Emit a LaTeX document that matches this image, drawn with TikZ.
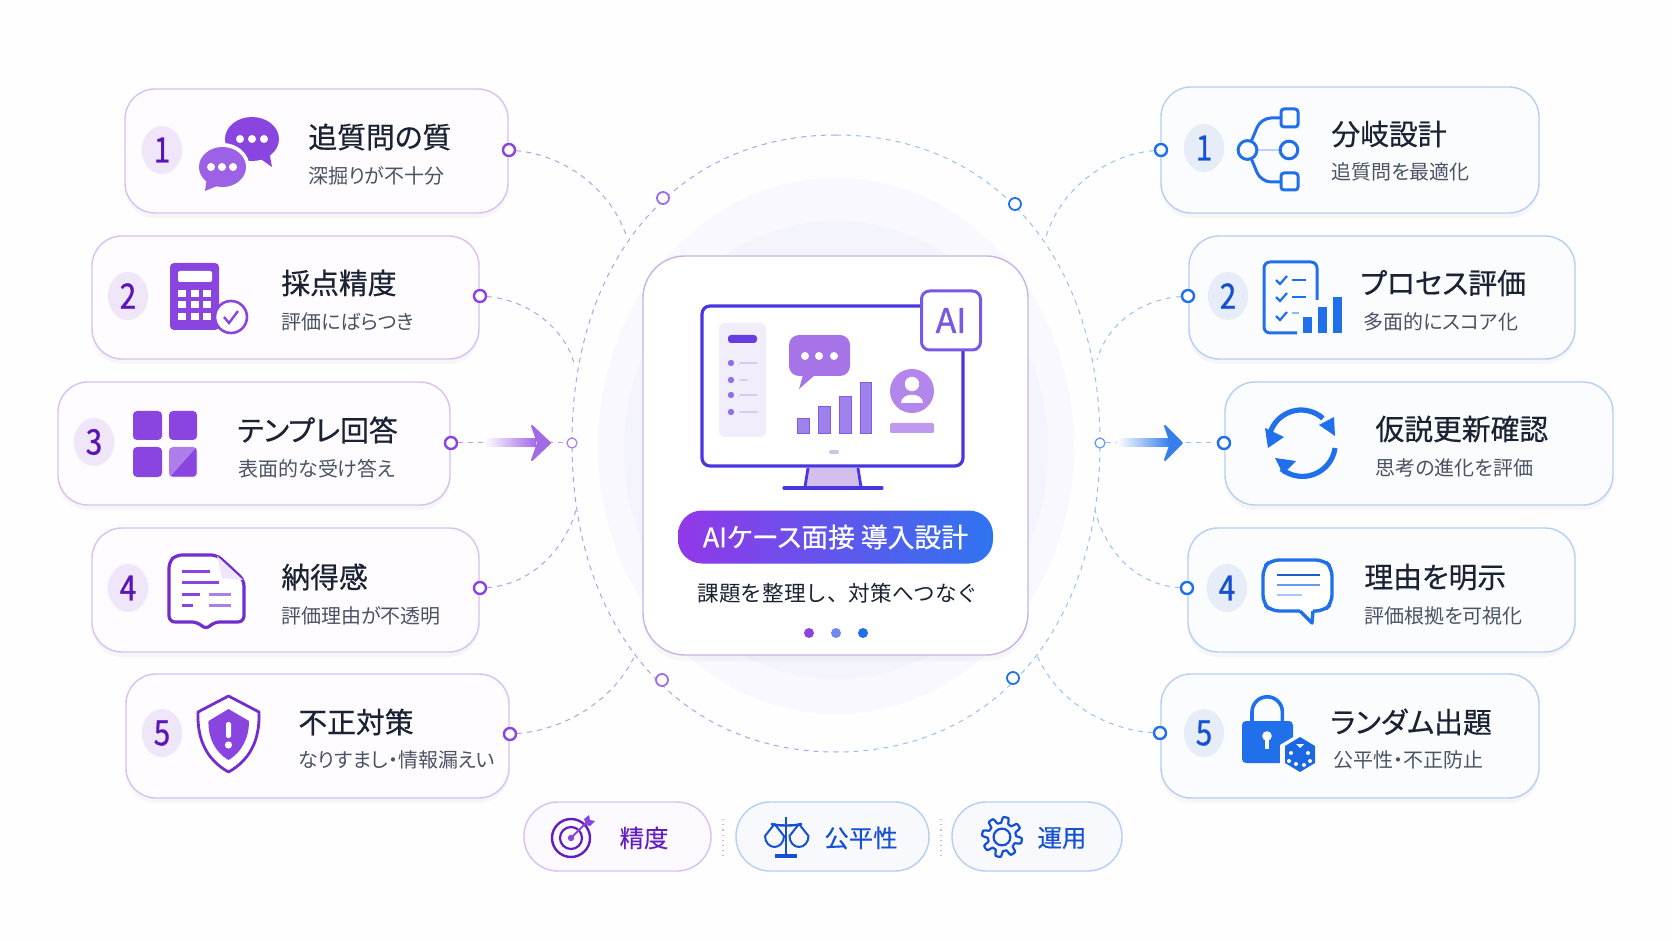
\documentclass[tikz,border=0pt]{standalone}
\usepackage{fontspec}
\usetikzlibrary{shadows}
\setmainfont{Noto Sans CJK JP}
\newfontfamily\titlefont[FakeBold=0.5,RawFeature=+palt]{Noto Sans CJK JP}
\newfontfamily\subfont[RawFeature=+palt]{Noto Sans CJK JP}
\newfontfamily\chipfont[FakeBold=0.25]{Noto Sans CJK JP}
\newfontfamily\numfont[FakeBold=1]{Noto Sans CJK JP}
\definecolor{pale}{HTML}{FEFEFF}
\definecolor{ink}{HTML}{1A2233}
\definecolor{subink}{HTML}{4B5363}
\definecolor{vio}{HTML}{8A45E0}
\definecolor{viod}{HTML}{5A14B8}
\definecolor{viol}{HTML}{D9C0F3}
\definecolor{viob}{HTML}{F0E6FA}
\definecolor{blu}{HTML}{1F70EA}
\definecolor{blud}{HTML}{1550D2}
\definecolor{blul}{HTML}{B6CEF3}
\definecolor{blub}{HTML}{E6EDF9}
\definecolor{mon}{HTML}{4A36E0}
\definecolor{haloa}{HTML}{F8F8FE}
\definecolor{halob}{HTML}{F3F4FC}
\definecolor{pilla}{HTML}{9238E8}
\definecolor{pillb}{HTML}{2F74F0}
\tikzset{
  lcard/.style={draw=viol, line width=.7pt, fill=viob!10!white, rounded corners=15pt,
    drop shadow={opacity=.06, shadow xshift=0pt, shadow yshift=-2.5pt}},
  rcard/.style={draw=blul, line width=.7pt, fill=blub!14!white, rounded corners=15pt,
    drop shadow={opacity=.06, shadow xshift=0pt, shadow yshift=-2.5pt}},
  head/.style={anchor=west, inner sep=0pt, text=ink, font=\titlefont\fontsize{14.4}{16}\selectfont},
  sub/.style={anchor=west, inner sep=0pt, text=subink, font=\subfont\fontsize{10}{12}\selectfont},
  lnum/.style={ellipse shape, fill=viob, text=viod},
  ellipse shape/.style={circle, minimum size=24pt, inner sep=0pt, xscale=.84, yscale=1,
    font=\numfont\fontsize{17.5}{19}\selectfont},
  rnum/.style={ellipse shape, fill=blub, text=blud},
  ldot/.style={circle, draw=vio, fill=white, line width=1.2pt, minimum size=6pt, inner sep=0pt},
  rdot/.style={circle, draw=blu, fill=white, line width=1.2pt, minimum size=6pt, inner sep=0pt},
  ldash/.style={draw=vio!55, line width=.5pt, dash pattern=on 2.5pt off 2.5pt},
  rdash/.style={draw=blu!45, line width=.5pt, dash pattern=on 2.5pt off 2.5pt},
  chip/.style={font=\chipfont\fontsize{12.2}{14}\selectfont, inner sep=0pt},
}
\begin{document}
\begin{tikzpicture}[x=.5pt, y=-.5pt]
\fill[pale] (0,0) rectangle (1672,941);
\useasboundingbox (0,0) rectangle (1672,941);
% halo
\fill[haloa] (836,446) ellipse [x radius=238, y radius=268];
\fill[halob] (836,450) ellipse [x radius=212, y radius=229];
% ring
\draw[ldash] (836,135) .. controls (678,135) and (572,258) .. (572,443)
  .. controls (572,628) and (678,752) .. (836,752);
\draw[rdash] (836,135) .. controls (994,135) and (1100,258) .. (1100,443)
  .. controls (1100,628) and (994,752) .. (836,752);
% ring dots
\node[ldot, minimum size=5pt, line width=.6pt, draw=vio!70] (ringw) at (572,443) {};
\node[rdot, minimum size=5pt, line width=.6pt, draw=blu!70] (ringe) at (1100,443) {};
\node[ldot, draw=vio!80, line width=.9pt] (ringnw) at (663,198) {};
\node[rdot, line width=.9pt] (ringne) at (1015,204) {};
\node[ldot, draw=vio!80, line width=.9pt] (ringsw) at (662,680) {};
\node[rdot, line width=.9pt] (ringse) at (1013,678) {};
\coordinate (joinl1) at (627,238);
\coordinate (joinl2) at (574,363);
\coordinate (joinl4) at (576,510);
\coordinate (joinl5) at (636,653);
\coordinate (joinr1) at (1046,237);
\coordinate (joinr2) at (1097,360);
\coordinate (joinr4) at (1095,510);
\coordinate (joinr5) at (1036,653);

% left cards
\node[lcard, minimum width=191.5pt, minimum height=62pt] (lbox1) at (316.5,151) {};
\node[lcard, minimum width=193.5pt, minimum height=61.5pt] (lbox2) at (285.5,297.5) {};
\node[lcard, minimum width=196pt, minimum height=61.5pt] (lbox3) at (254,443.5) {};
\node[lcard, minimum width=193.5pt, minimum height=62pt] (lbox4) at (285.5,590) {};
\node[lcard, minimum width=191.5pt, minimum height=62pt] (lbox5) at (317.5,736) {};
% right cards
\node[rcard, minimum width=189pt, minimum height=63pt] (rbox1) at (1350,150) {};
\node[rcard, minimum width=193pt, minimum height=61.5pt] (rbox2) at (1382,297.5) {};
\node[rcard, minimum width=194pt, minimum height=61.5pt] (rbox3) at (1419,443.5) {};
\node[rcard, minimum width=193.5pt, minimum height=62pt] (rbox4) at (1381.5,590) {};
\node[rcard, minimum width=189pt, minimum height=62pt] (rbox5) at (1350,736) {};

% dots on the cards
\node[ldot] (dotl1) at (509,150) {};
\node[ldot] (dotl2) at (480,296) {};
\node[ldot] (dotl3) at (451,443) {};
\node[ldot] (dotl4) at (480,588) {};
\node[ldot] (dotl5) at (510,734) {};
\node[rdot] (dotr1) at (1161,150) {};
\node[rdot] (dotr2) at (1188,296) {};
\node[rdot] (dotr3) at (1224,443) {};
\node[rdot] (dotr4) at (1187,588) {};
\node[rdot] (dotr5) at (1160,733) {};

% connectors
\draw[ldash] (dotl1) .. controls (565,155) and (612,190) .. (joinl1);
\draw[ldash] (dotl2) .. controls (530,300) and (565,330) .. (joinl2);
\draw[ldash] (dotl3) -- (ringw);
\draw[ldash] (dotl4) .. controls (530,585) and (565,550) .. (joinl4);
\draw[ldash] (dotl5) .. controls (565,730) and (615,700) .. (joinl5);
\draw[rdash] (dotr1) .. controls (1105,155) and (1060,190) .. (joinr1);
\draw[rdash] (dotr2) .. controls (1135,300) and (1105,330) .. (joinr2);
\draw[rdash] (ringe) -- (dotr3);
\draw[rdash] (dotr4) .. controls (1135,585) and (1105,550) .. (joinr4);
\draw[rdash] (dotr5) .. controls (1105,730) and (1055,700) .. (joinr5);

% big arrows
\shade[left color=white, right color=vio!80] (484,439) rectangle (536,447);
\fill[vio!80, draw=vio!80, line join=round, line width=1pt] (532,426) -- (550,443) -- (532,460) -- (538,443) -- cycle;
\shade[left color=white, right color=blu!90] (1117,439) rectangle (1170,447);
\fill[blu!90, draw=blu!90, line join=round, line width=1pt] (1165,426) -- (1182,443) -- (1165,460) -- (1171,443) -- cycle;

% numbers
\node[lnum] (numl1) at (162,150) {1};
\node[lnum] (numl2) at (128,296) {2};
\node[lnum] (numl3) at (94,442) {3};
\node[lnum] (numl4) at (128,588) {4};
\node[lnum] (numl5) at (162,733) {5};
\node[rnum] (numr1) at (1204,148) {1};
\node[rnum] (numr2) at (1228,296) {2};
\node[rnum] (numr4) at (1227,588) {4};
\node[rnum] (numr5) at (1204,733) {5};

% texts
\node[head] (headl1) at (308,137) {追質問の質};
\node[sub] (subl1) at (308,176) {深掘りが不十分};
\node[head] (headl2) at (281,283) {採点精度};
\node[sub] (subl2) at (281,322) {評価にばらつき};
\node[head] (headl3) at (237,430) {テンプレ回答};
\node[sub] (subl3) at (238,469) {表面的な受け答え};
\node[head] (headl4) at (281,577) {納得感};
\node[sub] (subl4) at (281,616) {評価理由が不透明};
\node[head] (headl5) at (298,722) {不正対策};
\node[sub] (subl5) at (298,760) {なりすまし・情報漏えい};
\node[head] (headr1) at (1331,134) {分岐設計};
\node[sub] (subr1) at (1331,172) {追質問を最適化};
\node[head] (headr2) at (1360,283) {プロセス評価};
\node[sub] (subr2) at (1363,322) {多面的にスコア化};
\node[head] (headr3) at (1375,429) {仮説更新確認};
\node[sub] (subr3) at (1375,468) {思考の進化を評価};
\node[head] (headr4) at (1364,577) {理由を明示};
\node[sub] (subr4) at (1364,616) {評価根拠を可視化};
\node[head] (headr5) at (1330,722) {ランダム出題};
\node[sub] (subr5) at (1333,760) {公平性・不正防止};

% icon l1
\fill[vio] (252,139) ellipse [x radius=27, y radius=22];
\fill[vio] (255,155) -- (272,167) -- (268,145) -- cycle;
\fill[white] (222.5,167) ellipse [x radius=27, y radius=24];
\fill[vio!85] (222.5,167) ellipse [x radius=23.5, y radius=20];
\fill[vio!85] (207,178) -- (205,191) -- (222,184) -- cycle;
\foreach \x in {240,252,264} \fill[white] (\x,139) circle (2pt);
\foreach \x in {211,222,233} \fill[white] (\x,167) circle (2pt);
% icon l2
\fill[vio, rounded corners=2pt] (170,263) rectangle (219,330);
\fill[white, rounded corners=1pt] (178,271) rectangle (212,282);
\foreach \y in {294,305,317} \foreach \x in {182,195,207} \fill[white] (\x-4,\y-3.5) rectangle (\x+4,\y+3.5);
\draw[vio, line width=1.3pt, fill=white] (231,317) circle (8pt);
\draw[vio, line width=1.2pt] (224,317) -- (229,323) -- (238,311);
% icon l3
\fill[vio, rounded corners=2pt] (133,411) rectangle (162,440);
\fill[vio, rounded corners=2pt] (169,411) rectangle (197,440);
\fill[vio, rounded corners=2pt] (133,447) rectangle (162,477);
\fill[vio!70, rounded corners=2pt] (169,447) rectangle (197,477);
\fill[vio] (171,476) -- (196,448) -- (196,474) -- (194,476) -- cycle;
% icon l4
\draw[viod!50!vio, line width=1.6pt, line join=round, rounded corners=3pt, fill=white]
  (217,555) -- (176,555) -- (169,562) -- (169,622) -- (198,622) -- (206,630) -- (213.5,622) -- (244,622) -- (244,580) -- cycle;
\fill[viob] (217,556) -- (243,580) -- (222,578) -- cycle;
\draw[vio, line width=1.5pt] (182,571) -- (210,571);
\draw[vio, line width=1.5pt] (182,582) -- (219,582);
\draw[vio, line width=1.5pt] (182,594) -- (200,594);
\draw[vio!70, line width=1.5pt] (208.5,594) -- (231,594);
\draw[vio, line width=1.5pt] (182,605) -- (193,605);
\draw[vio!70, line width=1.5pt] (208.5,605) -- (231,605);
% icon l5
\draw[viod!50!vio, line width=1.4pt, line join=round, fill=white]
  (228.5,696) -- (259,712) .. controls (260,740) and (250,760) .. (228.5,772)
  .. controls (207,760) and (197,740) .. (198,712) -- cycle;
\fill[vio] (228.5,709) -- (249,721) .. controls (249,738) and (242,752) .. (228.5,760)
  .. controls (215,752) and (208,738) .. (208.5,721) -- cycle;
\fill[white, rounded corners=.8pt] (226,722) rectangle (231,738);
\fill[white] (228.5,745) circle (1.8pt);

% icon r1
\draw[blu, line width=1.5pt, rounded corners=5pt] (1251,142) -- (1261,118) -- (1281,118);
\draw[blu, line width=1.5pt, rounded corners=5pt] (1251,158) -- (1261,182) -- (1281,182);
\draw[blu!30, line width=1.2pt] (1257,150) -- (1280,150);
\draw[blu, line width=1.5pt, fill=white] (1247.5,150) circle (4.7pt);
\draw[blu, line width=1.5pt, fill=white] (1289,150) circle (4.4pt);
\draw[blu, line width=1.5pt, fill=white, rounded corners=1.5pt] (1281,109) rectangle (1298,127);
\draw[blu, line width=1.5pt, fill=white, rounded corners=1.5pt] (1281,173) rectangle (1298,190);
% icon r2
\draw[blu, line width=1.5pt, rounded corners=3pt] (1297,333) -- (1264,333) -- (1264,262) -- (1317,262) -- (1317,300);
\foreach \y in {280,297,316} \draw[blu, line width=1.1pt] (1276,\y) -- (1280,\y+4) -- (1287,\y-4);
\draw[blu, line width=1.1pt] (1292,280) -- (1306,280);
\draw[blu, line width=1.1pt] (1292,297) -- (1306,297);
\draw[blu!50, line width=1.1pt] (1292,313) -- (1299,313);
\fill[blu] (1303,317) rectangle (1312,333);
\fill[blu] (1317.5,307) rectangle (1327,333);
\fill[blu] (1332.5,297) rectangle (1342,333);
% icon r3
\draw[blu, line width=2.6pt] (1269,438) arc [start angle=188, end angle=312, radius=32.5];
\fill[blu] (1319,425) -- (1334,417) -- (1335,436) -- cycle;
\fill[blu] (1265,428) -- (1284,437) -- (1268,448) -- cycle;
\draw[blu, line width=2.6pt] (1335,448) arc [start angle=8, end angle=130, radius=33];
\fill[blu] (1275,458) -- (1296,461) -- (1283,474) -- cycle;
% icon r4
\draw[blu, line width=1.7pt, line join=round, rounded corners=4pt, fill=white]
  (1300,611) -- (1271,611) -- (1263,603) -- (1263,568) -- (1271,560) -- (1324,560) -- (1332,568) -- (1332,603) -- (1324,611) -- (1313,611);
\draw[blu, line width=1.7pt, line join=round] (1300,611) -- (1312,623) -- (1313,611);
\draw[blu!85!black, line width=1.1pt] (1277,575) -- (1320,575);
\draw[blu!70, line width=1.1pt] (1277,585) -- (1320,585);
\draw[blu!40, line width=1.1pt] (1277,595) -- (1302,595);
% icon r5
\draw[blu, line width=1.8pt] (1252,722) -- (1252,712) arc [start angle=180, end angle=360, radius=15.2] -- (1282.4,722);
\fill[blu, rounded corners=2pt] (1242,721) rectangle (1293,763);
\fill[white] (1267,736) circle (2.4pt);
\fill[white] (1264.8,736) rectangle (1269.2,749);
\fill[white] (1300,733) -- (1320,745) -- (1320,765) -- (1300,777) -- (1280,765) -- (1280,745) -- cycle;
\fill[blud!30!blu] (1300,737) -- (1315,746) -- (1315,763) -- (1300,772) -- (1285,763) -- (1285,746) -- cycle;
\fill[white] (1296,744) -- (1304,744) -- (1300,748) -- cycle;
\foreach \a/\b in {1291/753,1289/761,1296/764,1308/753,1310/761,1304/765} \fill[white] (\a,\b) circle (1pt);

% center card
\node[draw=blue!35!violet!30, line width=.7pt, fill=white, rounded corners=21pt,
  minimum width=192.5pt, minimum height=199.5pt,
  drop shadow={opacity=.05, shadow xshift=0pt, shadow yshift=-3pt}] (maincard) at (835.5,455.5) {};
% monitor
\draw[mon, line width=1.6pt, rounded corners=4pt, fill=white] (702,306) rectangle (963,466);
\fill[blue!40!violet!25] (808,468) -- (858,468) -- (862,486) -- (805,486) -- cycle;
\draw[mon, line width=1.4pt] (808,468) -- (805,487);
\draw[mon, line width=1.4pt] (858,468) -- (861,487);
\draw[mon, line width=1.6pt, line cap=round] (784,488) -- (882,488);
\fill[blue!40!violet!25, rounded corners=1pt] (829,450) rectangle (839,454);
% side panel
\fill[blue!50!violet!7, rounded corners=3pt] (719,323) rectangle (766,437);
\fill[mon!55!vio, rounded corners=1.5pt] (728,335) rectangle (757,343);
\foreach \y/\e in {363/757,380/747,395/757,412/757} {
  \fill[mon!45!vio!75] (731,\y) circle (1.6pt);
  \draw[mon!25, line width=.9pt, line cap=round] (740,\y) -- (\e,\y);
}
% chat
\fill[vio!75, rounded corners=5pt] (789,335) rectangle (850,376);
\fill[vio!75] (803,375) -- (799,389) -- (815,375) -- cycle;
\foreach \x in {805,819,834} \fill[white] (\x,356) circle (2pt);
% bars
\fill[mon!50!vio!65, draw=mon!50!vio!85, line width=.4pt] (797,418) rectangle (809,433);
\fill[mon!50!vio!65, draw=mon!50!vio!85, line width=.4pt] (818,406) rectangle (830,433);
\fill[mon!50!vio!65, draw=mon!50!vio!85, line width=.4pt] (839,396) rectangle (851,433);
\fill[mon!50!vio!65, draw=mon!50!vio!85, line width=.4pt] (860,382) rectangle (871,433);
% person
\fill[vio!65] (912,391) circle (11pt);
\fill[white] (912,384) circle (3.6pt);
\fill[white] (901,403) .. controls (901,392) and (923,392) .. (923,403) -- cycle;
\fill[vio!55, rounded corners=1pt] (890,423) rectangle (934,433);
% AI badge
\node[draw=mon!65!vio!85, line width=1.5pt, fill=white, rounded corners=4pt, minimum width=29.5pt, minimum height=29.5pt,
  inner sep=0pt, text=mon!65!vio!85, font=\numfont\fontsize{17}{19}\selectfont] (aibadge) at (951,320.5) {AI};
% title pill
\node[rounded corners=12pt, left color=pilla, right color=pillb, minimum width=157.5pt, minimum height=26.5pt,
  inner sep=0pt, text=white, font=\titlefont\fontsize{13.4}{15}\selectfont] (titlepill) at (835.5,537) {AIケース面接 導入設計};
\node[inner sep=0pt, text=ink, font=\fontsize{10.8}{13}\selectfont] (cardsub) at (838,593) {課題を整理し、対策へつなぐ};
\node[circle, fill=vio, minimum size=5pt, inner sep=0pt] (pagea) at (809,633) {};
\node[circle, fill=mon!50!blu!70, minimum size=5pt, inner sep=0pt] (pageb) at (836,633) {};
\node[circle, fill=blu, minimum size=5pt, inner sep=0pt] (pagec) at (863,633) {};

% bottom chips
\node[draw=viol, line width=.7pt, fill=viob!22, rounded corners=17pt, minimum width=93.5pt, minimum height=34.5pt] (chipa) at (617.5,836.5) {};
\node[draw=blul, line width=.7pt, fill=blub!32, rounded corners=17pt, minimum width=96.5pt, minimum height=34.5pt] (chipb) at (832.5,836.5) {};
\node[draw=blul, line width=.7pt, fill=blub!32, rounded corners=17pt, minimum width=85pt, minimum height=34.5pt] (chipc) at (1037,836.5) {};
\draw[blue!30!violet!30, line width=.6pt, dotted] (723,819) -- (723,856);
\draw[blue!30!violet!30, line width=.6pt, dotted] (941,819) -- (941,856);
\node[chip, text=viod!80!vio] (chiptexta) at (644,838) {精度};
\node[chip, text=blud] (chiptextb) at (861,838) {公平性};
\node[chip, text=blud] (chiptextc) at (1062,838) {運用};
% target
\draw[viod!80!vio, line width=1.2pt] (571,838) circle (9.5pt);
\draw[viod!80!vio, line width=1.1pt] (571,838) circle (5.5pt);
\fill[vio] (571,838) circle (1.6pt);
\draw[vio, line width=1pt] (571,838) -- (587,822);
\fill[vio] (584,819) -- (589,815) -- (590,820) -- (595,821) -- (590,826) -- (586,825) -- cycle;
% scales
\draw[blud, line width=1.2pt] (786,817) -- (786,855);
\draw[blud, line width=1.6pt] (775,856) -- (797,856);
\draw[blud, line width=1.2pt] (771,824) .. controls (778,826) and (794,826) .. (802,824);
\draw[blud, line width=1pt, line join=round] (774.5,824) -- (765,836) arc [start angle=180, end angle=0, x radius=9.5, y radius=11] -- cycle;
\draw[blud, line width=1pt, line join=round] (799,824) -- (789.5,836) arc [start angle=180, end angle=0, x radius=9.5, y radius=11] -- cycle;
% gear
\begin{scope}[shift={(1002,837)}]
\draw[blud, line width=1.1pt, line join=round] plot[domain=0:360, samples=145] (\x:{17+3*min(1,max(-1,2.2*sin(8*\x))});
\draw[blud, line width=1.1pt] (0,0) circle (4.2pt);
\end{scope}
\end{tikzpicture}
\end{document}
